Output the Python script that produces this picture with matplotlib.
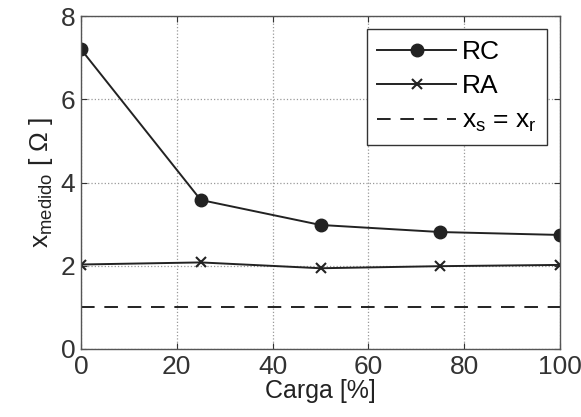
import matplotlib
matplotlib.use("Agg")
import matplotlib.pyplot as plt

carga = [0, 25, 50, 75, 100]
rc = [7.2, 3.58, 2.98, 2.81, 2.74]
ra = [2.03, 2.08, 1.94, 1.99, 2.02]
xs_xr = [1.0, 1.0, 1.0, 1.0, 1.0]
xticks = [0, 20, 40, 60, 80, 100]
yticks = [0, 2, 4, 6, 8]

plt.rcParams['font.family'] = ['Liberation Sans', 'DejaVu Sans']
plt.rcParams['mathtext.fontset'] = 'custom'
plt.rcParams['mathtext.rm'] = 'Liberation Sans'
plt.rcParams['mathtext.it'] = 'Liberation Sans'
fig = plt.figure(figsize=(5.81, 4.17), dpi=100)
ax = fig.add_axes([81/581, 1-349/417, (560-81)/581, (349-16)/417])

c = '#222222'
ax.plot(carga, rc, '-o', color=c, lw=1.4, ms=9, label='RC')
ax.plot(carga, ra, '-x', color=c, lw=1.4, ms=7, mew=1.5, label='RA')
ax.plot(carga, xs_xr, '--', color=c, lw=1.4, dashes=(7, 5), label=r'$\mathregular{x_s}$ = $\mathregular{x_r}$')

ax.set_xlim(0, 100)
ax.set_ylim(0, 8)
ax.set_xticks(xticks)
ax.set_yticks(yticks)
ax.tick_params(direction='in', top=True, right=True, labelsize=19, colors='#333333', length=4, pad=4)
ax.grid(True, linestyle=':', color='#999999', lw=0.9)
for s in ax.spines.values():
    s.set_color('#555555')
    s.set_linewidth(1.0)
ax.set_xlabel('Carga [%]', fontsize=18, color='#222222', labelpad=0)
ax.set_ylabel(r'$\mathregular{x_{medido}}$ [ Ω ]', fontsize=19, color='#222222', labelpad=4)
leg = ax.legend(loc='upper right', fontsize=19, frameon=True, fancybox=False,
                edgecolor='#333333', framealpha=1, handlelength=3.0, borderpad=0.4,
                labelspacing=0.4, handletextpad=0.2, borderaxespad=0.5)
leg.get_frame().set_linewidth(1.0)
fig.savefig('out.png', dpi=100)
